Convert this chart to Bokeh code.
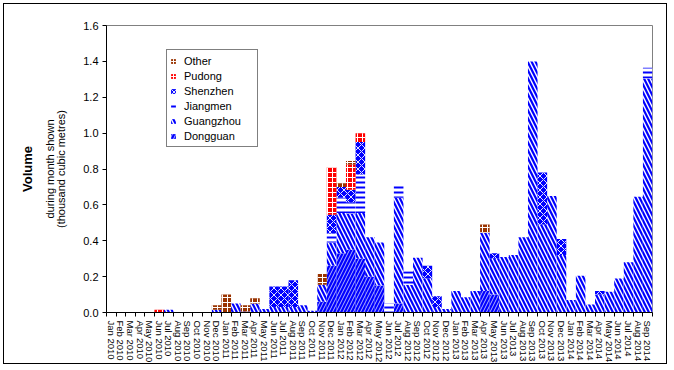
import math
from bokeh.plotting import figure
from bokeh.models import (Range1d, FixedTicker, CustomJSTickFormatter, NumeralTickFormatter,
                          Legend, LegendItem, ColumnDataSource, LinearAxis)
from bokeh.embed import file_html
from bokeh.resources import INLINE

month_names = ["Jan", "Feb", "Mar", "Apr", "May", "Jun", "Jul", "Aug", "Sep", "Oct", "Nov", "Dec"]
months = [f"{m} {y}" for y in range(2010, 2015) for m in month_names][:57]

dongguan = [0, 0, 0, 0, 0, 0, 0, 0, 0, 0, 0, 0,
            0, 0, 0, 0, 0, 0, 0, 0, 0, 0, 0.06, 0.26,
            0.33, 0.35, 0.30, 0.20, 0.15, 0, 0.05, 0, 0, 0, 0, 0,
            0, 0, 0, 0.12, 0.10, 0, 0, 0, 0, 0, 0, 0,
            0, 0, 0, 0, 0, 0, 0, 0, 0]
guangzhou = [0, 0, 0, 0, 0, 0, 0.015, 0, 0, 0, 0, 0.015,
             0, 0.05, 0.005, 0.05, 0.02, 0.03, 0.03, 0.03, 0.04, 0.01, 0.095, 0.13,
             0.225, 0.20, 0.255, 0.22, 0.24, 0, 0.59, 0.155, 0.305, 0.19, 0.03, 0.02,
             0.12, 0.085, 0.12, 0.325, 0.20, 0.31, 0.32, 0.42, 1.40, 0.49, 0.65, 0.32,
             0.07, 0.205, 0.045, 0.10, 0.115, 0.19, 0.28, 0.645, 1.305]
jiangmen = [0, 0, 0, 0, 0, 0, 0, 0, 0, 0, 0, 0,
            0, 0, 0, 0, 0, 0, 0, 0, 0, 0, 0, 0.05,
            0.085, 0.065, 0.215, 0, 0, 0.05, 0.075, 0.075, 0, 0, 0, 0,
            0, 0, 0, 0, 0, 0, 0, 0, 0, 0, 0, 0,
            0, 0, 0, 0, 0, 0, 0, 0, 0.06]
shenzhen = [0, 0, 0, 0, 0, 0, 0, 0, 0, 0, 0, 0,
            0, 0, 0, 0, 0, 0.115, 0.115, 0.15, 0, 0, 0, 0.105,
            0.06, 0.07, 0.18, 0, 0, 0, 0, 0, 0, 0.07, 0.06, 0,
            0, 0, 0, 0, 0.03, 0, 0, 0, 0, 0.29, 0, 0.09,
            0, 0, 0, 0.02, 0, 0, 0, 0, 0]
pudong = [0, 0, 0, 0, 0, 0.015, 0, 0, 0, 0, 0, 0,
          0, 0, 0, 0, 0, 0, 0, 0, 0, 0, 0, 0.265,
          0, 0.14, 0.05, 0, 0, 0, 0, 0, 0, 0, 0, 0,
          0, 0, 0, 0, 0, 0, 0, 0, 0, 0, 0, 0,
          0, 0, 0, 0, 0, 0, 0, 0, 0]
other = [0, 0, 0, 0, 0, 0, 0, 0, 0, 0, 0, 0.025,
         0.10, 0, 0.035, 0.03, 0, 0, 0, 0, 0, 0, 0.06, 0,
         0.02, 0.02, 0, 0, 0, 0, 0, 0, 0, 0, 0, 0,
         0, 0, 0, 0.045, 0, 0, 0, 0, 0, 0, 0, 0,
         0, 0, 0, 0, 0, 0, 0, 0, 0]

series = ["Dongguan", "Guangzhou", "Jiangmen", "Shenzhen", "Pudong", "Other"]
n = len(months)
src = ColumnDataSource(dict(x=[i + 0.5 for i in range(n)], Dongguan=dongguan, Guangzhou=guangzhou,
                            Jiangmen=jiangmen, Shenzhen=shenzhen, Pudong=pudong, Other=other))

FONT = "Liberation Sans"
p = figure(width=664, height=361, output_backend="svg", toolbar_location=None,
           x_range=Range1d(0, n), y_range=Range1d(0, 1.6),
           min_border_left=102, min_border_right=16, min_border_top=21, min_border_bottom=52)
p.styles = {"border": "1px solid black", "margin": "3px"}
p.outline_line_color = "#808080"
p.xgrid.visible = False
p.ygrid.visible = False

fills = ["#0000ff", "#ffffff", "#ffffff", "#0000ff", "#ff0000", "#993300"]
hatches = ["/", "\\", "-", "x", "+", "+"]
hcolors = ["#ffffff", "#0000ff", "#0000ff", "#ffffff", "#ffffff", "#ffffff"]
hweights = [0.7, 2.2, 2, 0.9, 1, 1]
hscales = [7, 8, 5, 7, 5, 5]

rs = p.vbar_stack(series, x="x", width=1, source=src, fill_color=fills, line_color=None,
                  hatch_pattern=hatches, hatch_color=hcolors, hatch_weight=hweights,
                  hatch_scale=hscales)

# x axis
p.xaxis.ticker = FixedTicker(ticks=[i + 0.5 for i in range(n)], minor_ticks=list(range(n + 1)))
p.xaxis.formatter = CustomJSTickFormatter(args=dict(labels=months),
                                          code="return labels[Math.floor(tick)];")
p.xaxis.major_label_orientation = -math.pi / 2
p.xaxis.major_tick_line_color = None
p.xaxis.minor_tick_in = 0
p.xaxis.minor_tick_out = 4
p.xaxis.minor_tick_line_color = "black"
p.xaxis.major_label_standoff = 2
p.xaxis.major_label_text_font = FONT
p.xaxis.major_label_text_font_size = "9.5px"
p.xaxis.major_label_text_color = "black"
p.xaxis.axis_line_color = "black"

# y axis
yax = p.yaxis[0]
yax.ticker = FixedTicker(ticks=[0, 0.2, 0.4, 0.6, 0.8, 1.0, 1.2, 1.4, 1.6])
yax.formatter = NumeralTickFormatter(format="0.0")
yax.minor_tick_line_color = None
yax.major_tick_in = 0
yax.major_tick_out = 4
yax.major_tick_line_color = "black"
yax.major_label_text_font = FONT
yax.major_label_text_font_size = "11px"
yax.major_label_text_color = "black"
yax.major_label_standoff = 4
yax.axis_line_color = "black"
yax.axis_label = "(thousand cubic metres)"
yax.axis_label_standoff = 13
yax.axis_label_text_font = FONT
yax.axis_label_text_font_size = "11px"
yax.axis_label_text_font_style = "normal"
yax.axis_label_text_color = "black"


def title_axis(text, size, style, standoff):
    ax = LinearAxis(ticker=FixedTicker(ticks=[]), axis_line_color=None, major_tick_line_color=None,
                    minor_tick_line_color=None, major_label_text_font_size="0px",
                    axis_label=text, axis_label_standoff=standoff, axis_label_text_font=FONT,
                    axis_label_text_font_size=size, axis_label_text_font_style=style,
                    axis_label_text_color="black")
    p.add_layout(ax, "left")


title_axis("during month shown", "11px", "normal", -3)
title_axis("Volume", "13px", "bold", 6)

# legend
items = [LegendItem(label=s, renderers=[r]) for s, r in zip(series, rs)][::-1]
legend = Legend(items=items, location=(60, 165), padding=3, spacing=0, margin=0,
                label_height=15, glyph_height=6, glyph_width=6, label_standoff=8, label_width=70,
                border_line_color="black", border_line_width=1, background_fill_alpha=1,
                label_text_font=FONT, label_text_font_size="11px", label_text_color="black")
p.add_layout(legend, "center")

open("out.html", "w").write(file_html(p, INLINE))
